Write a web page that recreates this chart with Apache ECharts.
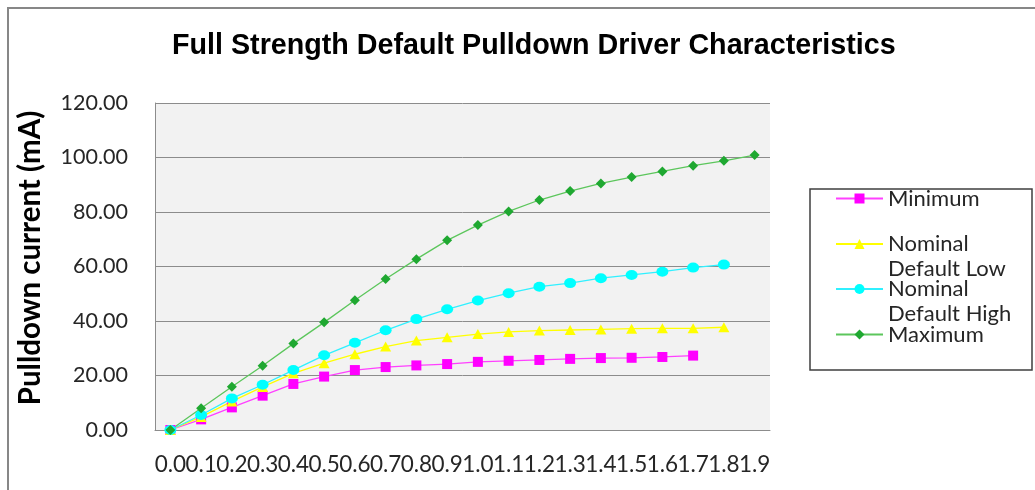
<!DOCTYPE html>
<html>
<head>
<meta charset="utf-8">
<script src="https://cdn.jsdelivr.net/npm/echarts@6/dist/echarts.min.js"></script>
<style>
  html, body { margin: 0; padding: 0; background: #ffffff; }
  #chart { width: 1035px; height: 490px; }
</style>
</head>
<body>
<div id="chart"></div>
<script>
// Pad voltage steps (V)
const voltages = ['0.0', '0.1', '0.2', '0.3', '0.4', '0.5', '0.6', '0.7', '0.8', '0.9',
                  '1.0', '1.1', '1.2', '1.3', '1.4', '1.5', '1.6', '1.7', '1.8', '1.9'];

// Pulldown current (mA) per corner
const minimum     = [0, 3.9, 8.3, 12.6, 16.9, 19.6, 22.0, 23.1, 23.7, 24.2,
                     25.0, 25.4, 25.7, 26.1, 26.4, 26.5, 26.8, 27.3];
const nominalLow  = [0, 4.8, 10.5, 15.8, 20.8, 24.5, 27.8, 30.6, 32.8, 34.0,
                     35.2, 36.0, 36.5, 36.7, 36.9, 37.2, 37.3, 37.3, 37.7];
const nominalHigh = [0, 5.5, 11.6, 16.6, 22.0, 27.4, 32.0, 36.6, 40.7, 44.3,
                     47.5, 50.2, 52.6, 53.9, 55.7, 56.9, 58.1, 59.6, 60.7];
const maximum     = [0, 8.0, 15.9, 23.6, 31.7, 39.5, 47.6, 55.4, 62.7, 69.6,
                     75.2, 80.2, 84.4, 87.7, 90.5, 92.8, 94.9, 97.0, 98.8, 100.9];

const seriesNames = ['Minimum', 'Nominal Default Low', 'Nominal Default High', 'Maximum'];
const legendLabels = ['Minimum', '\nNominal\nDefault Low', '\nNominal\nDefault High', 'Maximum'];

const uiFont = 'Lato';

function legendEntry(idx, top) {
  return {
    data: [seriesNames[idx]],
    left: 835,
    top: top,
    padding: 0,
    itemWidth: 47,
    itemHeight: 12.5,
    formatter: () => legendLabels[idx],
    textStyle: { fontFamily: uiFont, fontSize: 22, lineHeight: 25, color: '#262626' }
  };
}

function lineSeries(name, data, symbol, size, markColor, lineColor) {
  return {
    name: name,
    type: 'line',
    data: data,
    symbol: symbol,
    symbolSize: size,
    smooth: false,
    itemStyle: { color: markColor },
    lineStyle: { color: lineColor, width: 1.3 },
    emphasis: { disabled: true }
  };
}

const chart = echarts.init(document.getElementById('chart'), null, { renderer: 'canvas' });

chart.setOption({
  animation: false,
  backgroundColor: '#ffffff',
  title: {
    text: 'Full Strength Default Pulldown Driver Characteristics',
    left: 172,
    top: 32,
    padding: 0,
    textStyle: { fontFamily: 'Liberation Sans', fontWeight: 'bold', fontSize: 28.7, color: '#000000' }
  },
  graphic: [
    {
      type: 'polyline',
      shape: { points: [[8, 490], [8, 8], [1035, 8]] },
      style: { stroke: '#878787', lineWidth: 2, fill: null },
      silent: true
    },
    {
      type: 'rect',
      shape: { x: 810, y: 189, width: 222, height: 181 },
      style: { stroke: '#3f3f3f', lineWidth: 1.5, fill: '#ffffff' },
      silent: true
    }
  ],
  legend: [
    legendEntry(0, 186),
    legendEntry(1, 206.5),
    legendEntry(2, 251.5),
    legendEntry(3, 322)
  ],
  grid: {
    left: 155, right: 265, top: 103, bottom: 60,
    show: true, backgroundColor: '#f2f2f2', borderWidth: 0
  },
  xAxis: {
    type: 'category',
    data: voltages,
    boundaryGap: true,
    axisLine: { show: true, lineStyle: { color: '#8c8c8c', width: 1 } },
    axisTick: { show: false },
    axisLabel: { interval: 0, margin: 23, fontFamily: uiFont, fontSize: 22.5, color: '#262626' },
    splitLine: { show: false }
  },
  yAxis: {
    type: 'value',
    min: 0, max: 120, interval: 20,
    name: 'Pulldown current (mA)',
    nameLocation: 'middle',
    nameGap: 110,
    nameTextStyle: {
      fontFamily: uiFont, fontWeight: 'bold', fontSize: 29.5, color: '#000000',
      padding: [0, 0, 0, 17]
    },
    axisLine: { show: true, lineStyle: { color: '#8c8c8c', width: 1 } },
    axisTick: { show: false },
    axisLabel: {
      margin: 27, fontFamily: uiFont, fontSize: 21.5, color: '#262626',
      formatter: v => v.toFixed(2)
    },
    splitLine: { show: true, lineStyle: { color: '#8c8c8c', width: 1 } }
  },
  series: [
    lineSeries(seriesNames[0], minimum, 'rect', 10, '#ff00ff', '#ff40ff'),
    lineSeries(seriesNames[1], nominalLow, 'triangle', [11, 10], '#ffff00', '#ffff00'),
    lineSeries(seriesNames[2], nominalHigh, 'circle', [12, 10], '#00ffff', '#30f0ff'),
    lineSeries(seriesNames[3], maximum, 'diamond', [10, 10], '#1fa831', '#5cc65c')
  ]
});
</script>
</body>
</html>
